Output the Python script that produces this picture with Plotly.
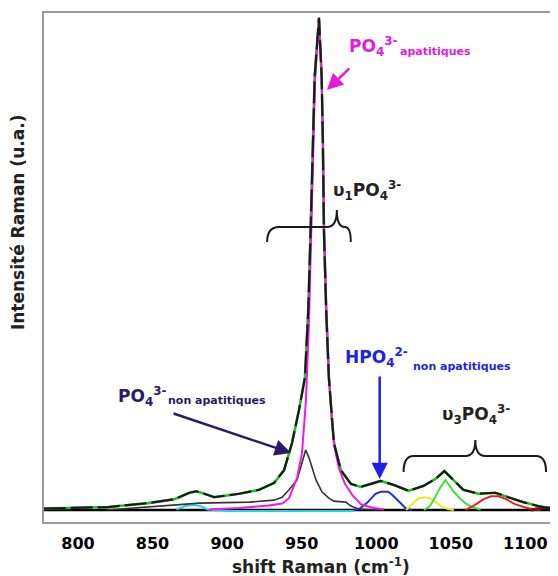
import plotly.graph_objects as go

# ---------------- data ----------------
# measured / fitted envelope
env_x = [777, 800, 820.4, 847, 864.7, 874.7, 879.5, 884.7, 891.4, 908, 921.5, 931.5, 938.2,
         943.5, 948.2, 952.2, 954.4, 956, 957.5, 958.7, 961.6, 963.4, 964.2, 964.9, 966.4,
         968.2, 971.6, 976.3, 983, 989.6, 996.3, 1003, 1011.7, 1021.7, 1031.7, 1039.7,
         1045.7, 1051.7, 1058.4, 1068.4, 1079.9, 1088.5, 1098.5, 1108.5, 1119.2]
env_y = [0.3, 0.5, 0.6, 1.4, 2.2, 3.5, 3.8, 3.3, 2.6, 3.3, 4.1, 5.5, 8.1,
         13.6, 20.3, 27, 40.7, 57, 74.6, 88, 100, 88, 74.6, 57, 40.7,
         27, 13.6, 8.1, 5.3, 4.7, 5.3, 5.9, 5.1, 3.9, 4.9, 6.3,
         7.9, 6.1, 4.1, 3.3, 3.5, 2.6, 1.6, 0.8, 0.2]

# PO4 3- apatitiques (magenta)
apa_x = [888, 908, 928, 937, 941.5, 946.9, 950.2, 952.8, 954.8, 956.3, 957.7, 958.9, 961.6,
         963.4, 964.3, 965.1, 966.6, 968.4, 970.3, 972.3, 975, 979, 984, 990, 997, 1005]
apa_y = [0.1, 0.4, 0.9, 1.3, 2.4, 6.5, 11.5, 22, 37, 54, 72, 87, 100,
         88, 74.6, 57, 40.7, 27, 18, 12.4, 8.5, 5.3, 3.0, 1.1, 0.5, 0.1]

# PO4 3- non apatitiques (black)
nonapa_x = [819.3, 847, 881.5, 914.9, 931.5, 936.9, 941.5, 946.9, 950.2, 952.7, 954.9,
            959.6, 963.6, 968.2, 971.6, 979.6, 983, 988.3, 1001.7]
nonapa_y = [0, 0.6, 1.4, 1.6, 2.0, 2.6, 4.1, 6.1, 9.8, 12.2, 10.6,
            6.1, 3.7, 2.4, 1.8, 1.6, 0.8, 0.2, 0]

# HPO4 2- (blue)
hpo_x = [985, 989, 994, 999.5, 1003, 1008, 1011, 1016, 1020, 1024]
hpo_y = [0, 0.3, 1.5, 3.3, 3.7, 3.7, 3.0, 1.4, 0.3, 0]

# v3 components
yel_x = [1020, 1024, 1028, 1032, 1036, 1040, 1044, 1048, 1052]
yel_y = [0, 1.2, 2.3, 2.6, 2.4, 1.6, 0.7, 0.2, 0]

grn_x = [1032, 1036, 1039.5, 1043, 1046.4, 1049, 1052, 1056, 1060, 1065, 1070]
grn_y = [0, 0.8, 2.6, 4.6, 6.1, 5.0, 3.7, 2.4, 1.3, 0.5, 0.1]

red_x = [1060, 1066, 1072, 1077, 1082, 1087, 1093, 1100, 1106, 1110]
red_y = [0, 1.0, 2.2, 2.8, 2.8, 2.2, 1.2, 0.5, 0.1, 0]

mar_x = [1104, 1110, 1115, 1119.2]
mar_y = [0, 0.35, 0.45, 0.4]

cyan_x = [866, 872, 877, 882, 887, 900, 985]
cyan_y = [0.1, 0.8, 1.0, 0.8, 0.1, -0.2, -0.2]

base_x = [777, 1119.2]
base_y = [0, 0]

tick_vals = [800, 850, 900, 950, 1000, 1050, 1100]
tick_text = ["800", "850", "900", "950", "1000", "1050", "1100"]

# ---------------- figure ----------------
OFF = 8                      # page body margin offset
W, H = 558 - OFF, 576 - OFF
L, T = 44 - OFF, 13 - OFF
R = W - (556 - OFF)
B = H - (522 - OFF)
PW, PH = W - L - R, H - T - B


def P(px, py):
    """page pixel -> paper coordinates"""
    fx, fy = px - OFF, py - OFF
    return (fx - L) / PW, (H - B - fy) / PH


fig = go.Figure()


def line(x, y, color, width, dash="solid"):
    fig.add_trace(go.Scatter(x=x, y=y, mode="lines",
                             line=dict(color=color, width=width, dash=dash),
                             hoverinfo="skip", showlegend=False))


line(base_x, base_y, "black", 2.5)
line(cyan_x, cyan_y, "#22d3e6", 2)
line(nonapa_x, nonapa_y, "#333333", 1.6)
line(hpo_x, hpo_y, "#1f2ee0", 2)
line(yel_x, yel_y, "#f2ea20", 2)
line(grn_x, grn_y, "#40e040", 2)
line(red_x, red_y, "#e8241c", 2)
line(mar_x, mar_y, "#7a1010", 3)
line(env_x, env_y, "#22c022", 2.6)
line(apa_x, apa_y, "#f019e8", 2)
line(env_x, env_y, "#1a1a1a", 2.2, dash="22px,5px")

fig.update_layout(
    width=W, height=H,
    margin=dict(l=L, r=R, t=T, b=B),
    plot_bgcolor="white", paper_bgcolor="white",
    font=dict(family="DejaVu Sans"),
    xaxis=dict(range=[777.2, 1119.2], tickvals=tick_vals, ticktext=tick_text,
               showgrid=False, zeroline=False, ticks="", ticklabelstandoff=6,
               showline=True, mirror=True, linecolor="#9a9a9a", linewidth=2,
               tickfont=dict(family="DejaVu Sans", size=16, color="black", weight="bold")),
    yaxis=dict(range=[-2.44, 101.0], showticklabels=False, showgrid=False,
               zeroline=False, ticks="",
               showline=True, mirror=True, linecolor="#9a9a9a", linewidth=2),
)


def text(px, py, s, color, size, angle=0):
    x, y = P(px, py)
    fig.add_annotation(x=x, y=y, xref="paper", yref="paper", text="<b>" + s + "</b>",
                       showarrow=False, textangle=angle,
                       font=dict(family="DejaVu Sans", size=size, color=color),
                       xanchor="center", yanchor="middle")


def arrow(hx, hy, tx, ty, color):
    x, y = P(hx, hy)
    fig.add_annotation(x=x, y=y, xref="paper", yref="paper", text="",
                       showarrow=True, ax=tx - hx, ay=ty - hy,
                       arrowhead=2, arrowsize=1.3, arrowwidth=2.5, arrowcolor=color)


MAG = "#e619e0"
BLU = "#1f1fe8"
PUR = "#2c1a66"

text(374, 47, "PO<sub>4</sub><sup>3-</sup>", MAG, 17)
text(437, 52, "apatitiques", MAG, 11)
arrow(328, 90, 352, 67, MAG)

text(368, 191, "υ<sub>1</sub>PO<sub>4</sub><sup>3-</sup>", "#222222", 17)

text(378, 358, "HPO<sub>4</sub><sup>2-</sup>", BLU, 17)
text(464, 366, "non apatitiques", BLU, 11)
arrow(381, 479, 381, 375, BLU)

text(142, 396, "PO<sub>4</sub><sup>3-</sup>", PUR, 17)
text(218, 400, "non apatitiques", PUR, 11)
arrow(292, 453, 173, 413, PUR)

text(478, 414, "υ<sub>3</sub>PO<sub>4</sub><sup>3-</sup>", "#222222", 17)

text(18, 222, "Intensité Raman (u.a.)", "#222222", 17, angle=-90)
text(322, 566, "shift Raman (cm<sup>-1</sup>)", "#222222", 17)


def brace(pts):
    s = ""
    for cmd, coords in pts:
        conv = []
        for i in range(0, len(coords), 2):
            x, y = P(coords[i], coords[i + 1])
            conv.append(f"{x:.5f},{y:.5f}")
        s += cmd + " " + " ".join(conv) + " "
    fig.add_shape(type="path", xref="paper", yref="paper", path=s.strip(),
                  line=dict(color="#1a1a1a", width=2))


brace([("M", (268, 242)), ("Q", (268, 227, 280, 227)), ("L", (328, 227)),
       ("Q", (338, 227, 338, 210)), ("Q", (338, 227, 346, 227)),
       ("Q", (352, 227, 352, 242))])
brace([("M", (405, 472)), ("Q", (405, 456, 415, 456)), ("L", (467, 456)),
       ("Q", (477, 456, 477, 440)), ("Q", (477, 456, 487, 456)), ("L", (538, 456)),
       ("Q", (548, 456, 548, 472))])

fig.write_html("out.html")
